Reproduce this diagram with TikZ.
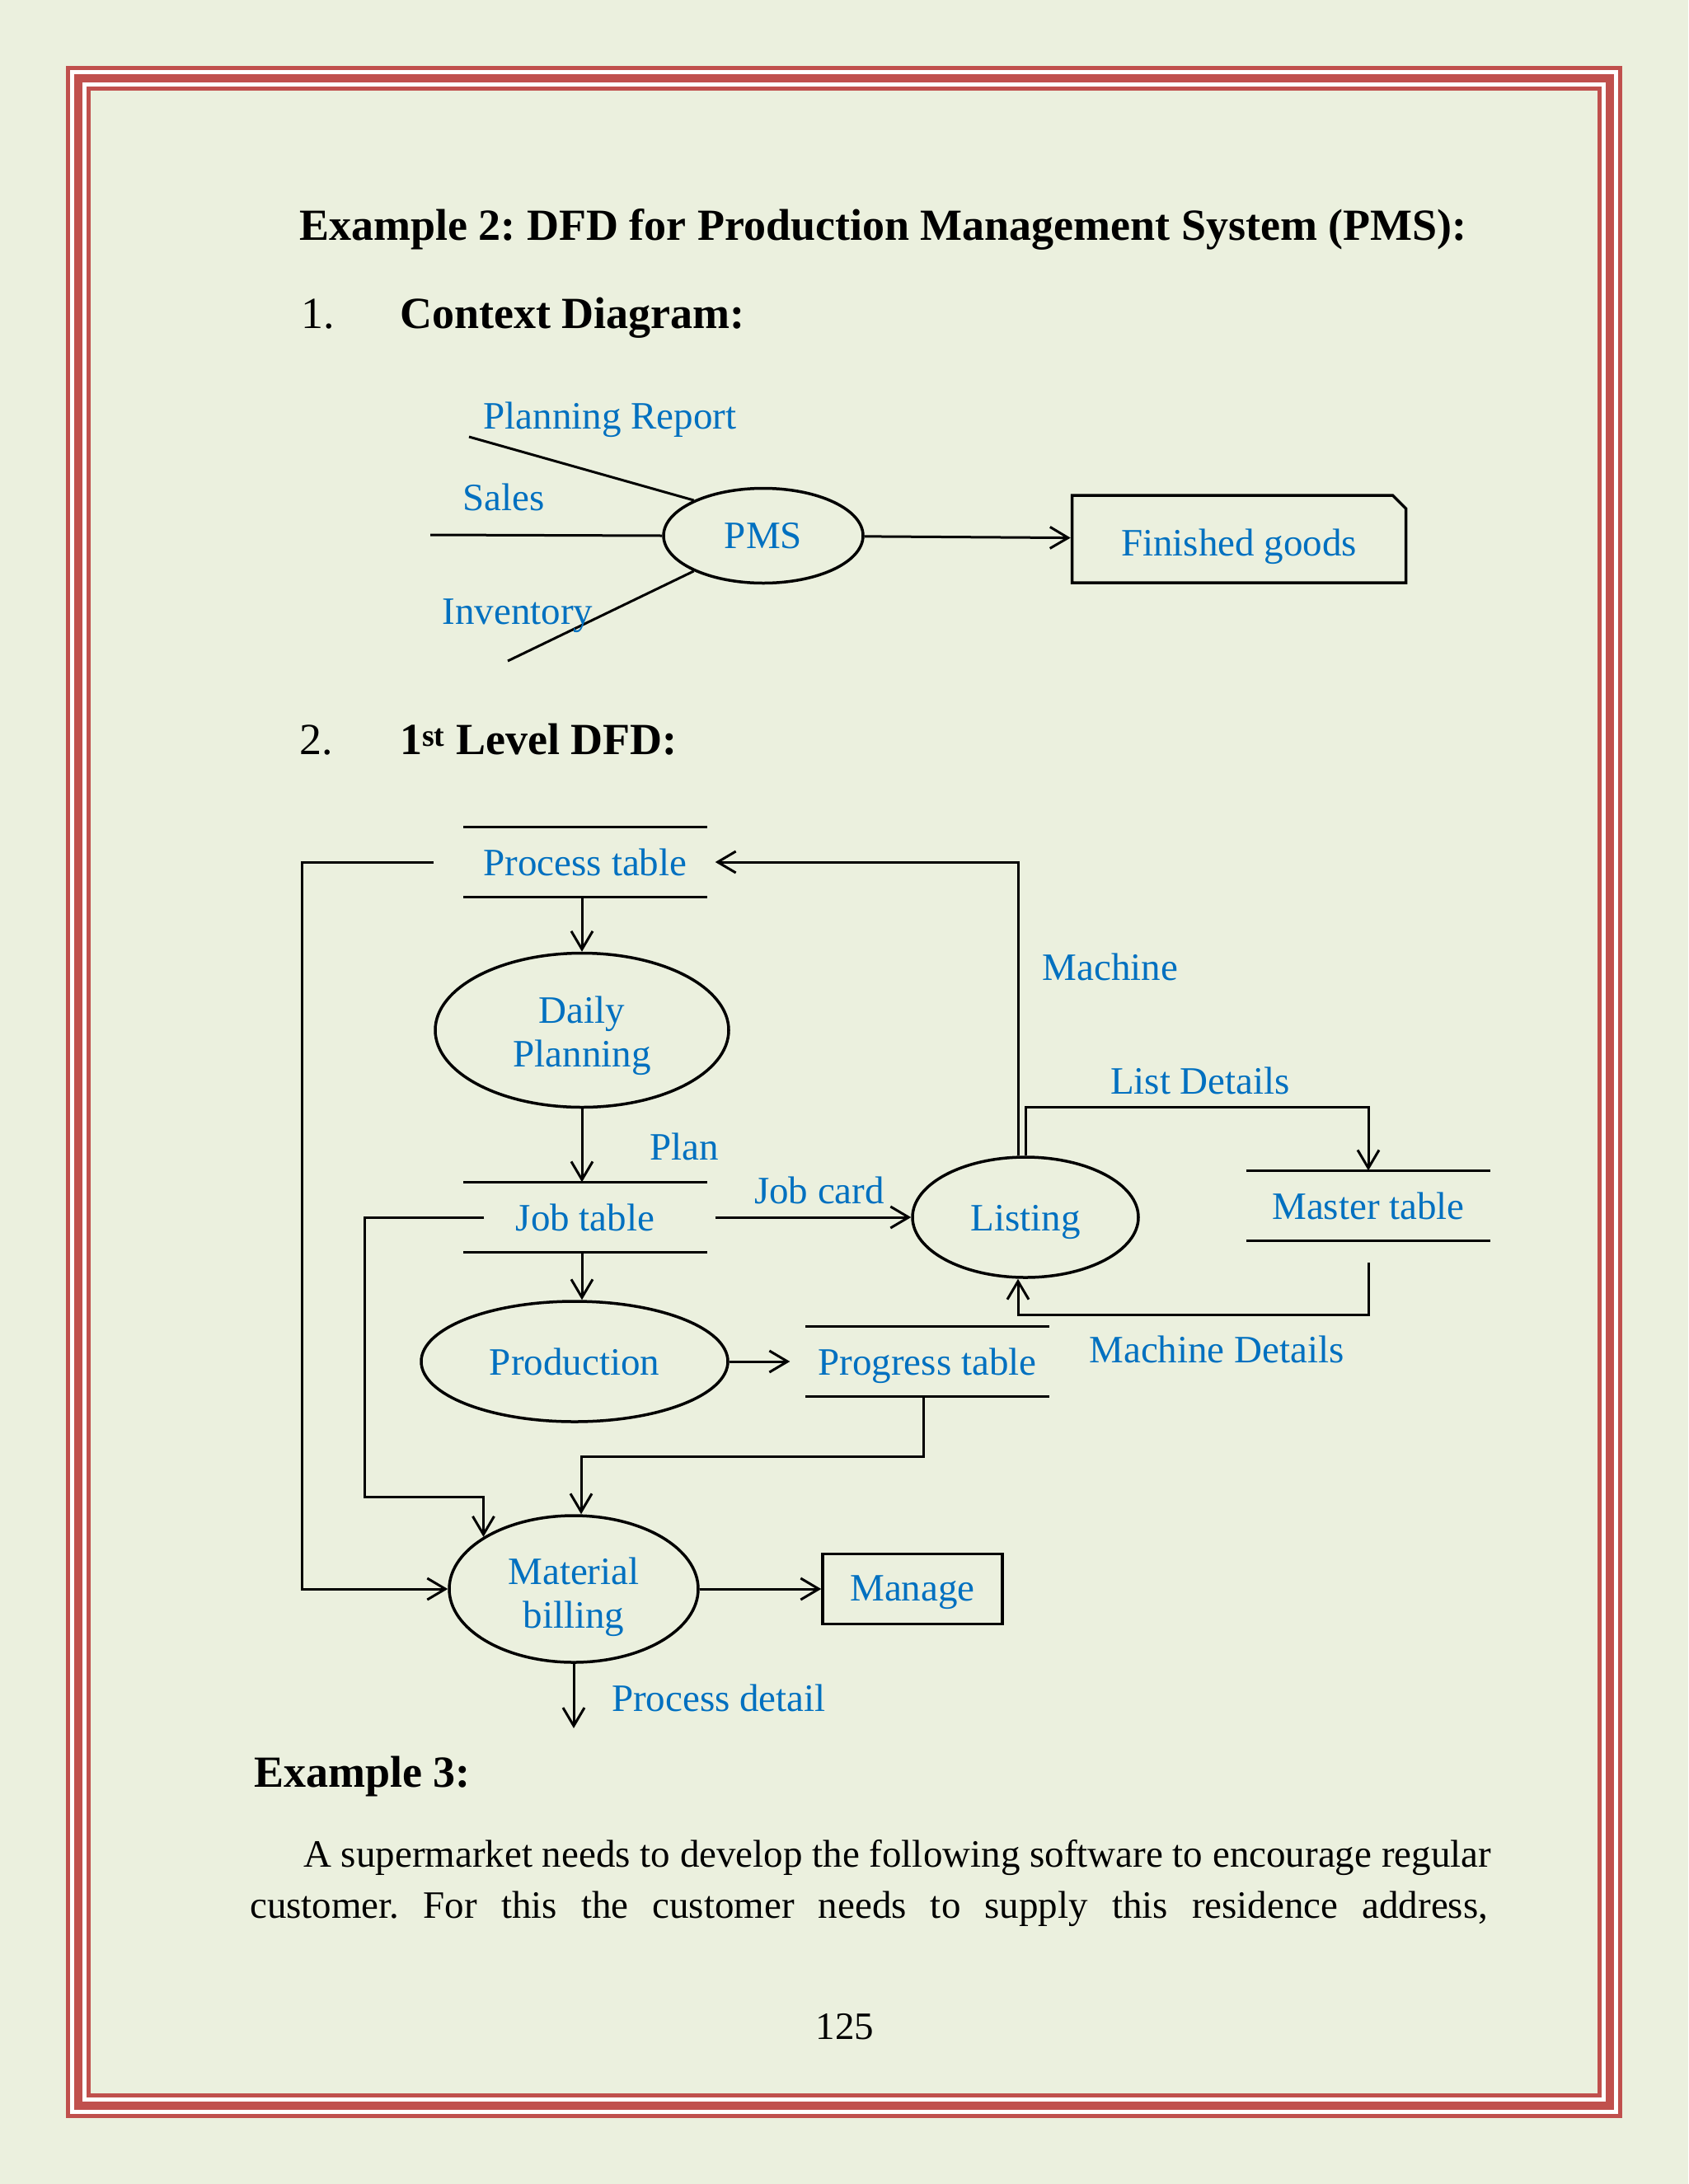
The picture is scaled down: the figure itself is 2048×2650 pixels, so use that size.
\documentclass[tikz,border=0pt]{standalone}
\usepackage{fontspec}
\setmainfont{Liberation Serif}
\usetikzlibrary{arrows.meta}
\usetikzlibrary{shapes.geometric}
\usetikzlibrary{shapes.misc}
\definecolor{pagebg}{RGB}{235,240,222}
\definecolor{framered}{RGB}{192,80,77}
\definecolor{dfdblue}{RGB}{0,112,192}
\newcommand{\dfdfont}{\fontsize{47}{53}\selectfont}
\newcommand{\headsize}{\fontsize{54}{60}\selectfont}
\newcommand{\lowerby}[1]{\rule{0pt}{#1}}
\frenchspacing
\tikzset{line/.style = {draw, line width = 3}}
\tikzset{flow/.style = {draw, line width = 3, -{Straight Barb[length = 22pt, width = 26pt]}}}
\tikzset{proc/.style = {draw, ellipse, line width = 3.5, inner sep = 0, text = dfdblue,
                        font = \dfdfont, align = center}}
\tikzset{store/.style = {inner sep = 0, text = dfdblue, font = \dfdfont,
                         minimum width = 295, minimum height = 85,
                         append after command = {(\tikzlastnode.north west) edge [line width = 3.5] (\tikzlastnode.north east)
                                                 (\tikzlastnode.south west) edge [line width = 3.5] (\tikzlastnode.south east)}}}
\tikzset{lbl/.style = {text = dfdblue, font = \dfdfont, inner sep = 0, anchor = base}}
\tikzset{txt/.style = {inner sep = 0, anchor = base west}}

\begin{document}
\begin{tikzpicture}[x = 1pt, y = -1pt]
    % page and frame
    \fill [pagebg] (0, 0) rectangle (2048, 2650);
    \useasboundingbox (0, 0) rectangle (2048, 2650);
    \draw [white, line width = 20] (95, 95) rectangle (1953, 2555);
    \draw [framered, line width = 5] (82.5, 82.5) rectangle (1965.5, 2567.5);
    \draw [framered, line width = 10] (95, 95) rectangle (1953, 2555);
    \draw [framered, line width = 5] (107.5, 107.5) rectangle (1940.5, 2542.5);

    \node [txt, font = \headsize\bfseries] (title) at (363, 291) {Example 2: DFD for Production Management System (PMS):};
    \node [txt, font = \headsize] (h1num) at (365, 398) {1.};
    \node [txt, font = \headsize\bfseries] (h1) at (485, 398) {Context Diagram:};
    \node [txt, font = \headsize] (h2num) at (363, 915) {2.};
    \node [txt, font = \headsize\bfseries] (h2) at (485, 915) {1\textsuperscript{st} Level DFD:};

    % context diagram
    \node [proc, minimum width = 242, minimum height = 115] (pms) at (926, 650) {PMS};
    \node [draw, chamfered rectangle, chamfered rectangle corners = north east,
           chamfered rectangle xsep = 8pt, chamfered rectangle ysep = 8pt,
           line width = 3.5, minimum width = 405, minimum height = 106, inner sep = 0,
           text height = 52pt, text = dfdblue, font = \dfdfont] (fg) at (1503, 654) {Finished goods};
    \coordinate (planin) at (569, 530);
    \coordinate (salesin) at (522, 649);
    \coordinate (invin) at (616, 802);
    \draw [line] (planin) -- (pms.153);
    \draw [line] (salesin) -- (pms.west);
    \draw [line] (invin) -- (pms.207);
    \draw [flow] (pms) -- (fg);
    \node [lbl] (planlbl) at (740, 520) {Planning Report};
    \node [lbl] (saleslbl) at (611, 619) {Sales};
    \node [lbl] (invlbl) at (628, 757) {Inventory};

    % 1st level DFD
    \node [store] (pt) at (710, 1046) {Process table};
    \node [proc, minimum width = 356, minimum height = 187] (dp) at (706, 1250) {\lowerby{46pt}Daily\\Planning};
    \node [store] (jt) at (710, 1477) {Job table};
    \node [proc, minimum width = 274, minimum height = 146, text height = 44pt] (ls) at (1244, 1477) {Listing};
    \node [store, minimum width = 296] (ms) at (1660, 1463) {Master table};
    \node [proc, minimum width = 372, minimum height = 146] (pr) at (697, 1652) {Production};
    \node [store, text height = 44pt] (pg) at (1125, 1652) {Progress table};
    \node [proc, minimum width = 302, minimum height = 178] (mb) at (696, 1928) {\lowerby{52pt}Material\\billing};
    \node [draw, line width = 3.5, minimum width = 218, minimum height = 85, inner sep = 0,
           text height = 40pt, text = dfdblue, font = \dfdfont] (mn) at (1107, 1928) {Manage};
    \coordinate (pd) at (696, 2097);

    \draw [flow] ([xshift = -36pt]pt.west) -- ++(-160, 0) |- (mb.west);
    \draw [flow] ([xshift = -9pt]ls.north) |- ([xshift = 10pt]pt.east);
    \draw [flow] (ls.north) -- ++(0, -59) -| (ms.north);
    \draw [flow] ([yshift = -26pt]ms.south) -- ++(0, 64) -| ([xshift = -9pt]ls.south);
    \draw [flow] ([xshift = 10pt]jt.east) -- (ls.west);
    \draw [flow] ([xshift = 25pt]jt.west) -- ++(-145, 0) |- ([yshift = 48pt]mb.150) -- (mb.150);
    \draw [flow] (pt.south -| dp.north) -- (dp.north);
    \draw [flow] (dp.south) -- (dp.south |- jt.north);
    \draw [flow] (jt.south -| dp.south) -- (dp.south |- pr.north);
    \draw [flow] (pr.east) -- ([xshift = -19pt]pg.west);
    \draw [flow] ([xshift = -5pt]pg.south) -- ++(0, 73) -| ([xshift = 9pt]mb.north);
    \draw [flow] (mb.east) -- (mn.west);
    \draw [flow] (mb.south) -- (pd);

    \node [lbl] (machlbl) at (1347, 1189) {Machine};
    \node [lbl] (listlbl) at (1456, 1327) {List Details};
    \node [lbl] (planflow) at (830, 1407) {Plan};
    \node [lbl] (joblbl) at (994, 1460) {Job card};
    \node [lbl] (mdlbl) at (1476, 1653) {Machine Details};
    \node [lbl] (pdlbl) at (872, 2076) {Process detail};

    % text below
    \node [txt, font = \headsize\bfseries] (ex3) at (308, 2168) {Example 3:};
    \node [txt, font = \dfdfont] (para1) at (368, 2265) {A supermarket needs to develop the following software to encourage regular};
    \node [txt, font = \dfdfont] (para2) at (303, 2327) {\makebox[1502pt][s]{customer. For this the customer needs to supply this residence address,}};
    \node [inner sep = 0, anchor = base, font = \dfdfont] (pgno) at (1025, 2474) {125};
\end{tikzpicture}
\end{document}
